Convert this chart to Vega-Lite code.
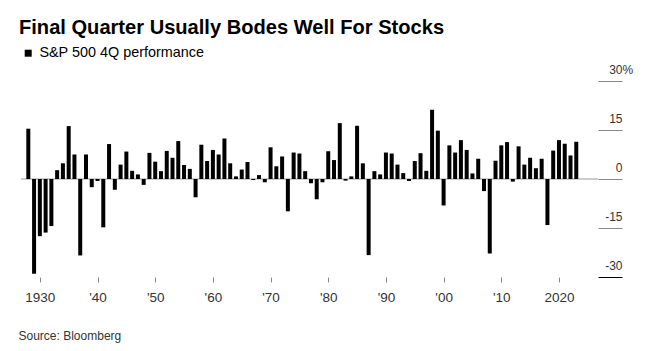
{
  "$schema": "https://vega.github.io/schema/vega-lite/v6.json",
  "width": 577,
  "height": 196,
  "autosize": {"type": "none"},
  "padding": {"left": 21, "top": 81, "right": 56, "bottom": 74},
  "background": "white",
  "config": {"view": {"stroke": null}, "font": "Liberation Sans"},
  "title": {
    "text": "Final Quarter Usually Bodes Well For Stocks",
    "anchor": "start",
    "frame": "group",
    "font": "Liberation Sans",
    "fontSize": 20.1,
    "fontWeight": "bold",
    "color": "#000",
    "dx": -2,
    "dy": 2,
    "offset": 10
  },
  "layer": [
    {
      "data": {"values": [{"z": 0}]},
      "mark": {"type": "rule", "color": "#999", "strokeWidth": 1},
      "encoding": {
        "y": {"datum": 0, "type": "quantitative"}
      }
    },
    {
      "data": {
        "values": [
          {"year": 1928, "value": 15.4}, {"year": 1929, "value": -29.0}, {"year": 1930, "value": -17.5},
          {"year": 1931, "value": -16.4}, {"year": 1932, "value": -14.4}, {"year": 1933, "value": 2.7},
          {"year": 1934, "value": 4.8}, {"year": 1935, "value": 16.2}, {"year": 1936, "value": 7.5},
          {"year": 1937, "value": -23.4}, {"year": 1938, "value": 7.5}, {"year": 1939, "value": -2.5},
          {"year": 1940, "value": -0.6}, {"year": 1941, "value": -14.8}, {"year": 1942, "value": 10.7},
          {"year": 1943, "value": -3.3}, {"year": 1944, "value": 4.4}, {"year": 1945, "value": 8.4},
          {"year": 1946, "value": 2.5}, {"year": 1947, "value": 1.4}, {"year": 1948, "value": -1.8},
          {"year": 1949, "value": 8.0}, {"year": 1950, "value": 5.3}, {"year": 1951, "value": 2.4},
          {"year": 1952, "value": 8.6}, {"year": 1953, "value": 6.5}, {"year": 1954, "value": 11.6},
          {"year": 1955, "value": 4.3}, {"year": 1956, "value": 3.1}, {"year": 1957, "value": -5.6},
          {"year": 1958, "value": 10.5}, {"year": 1959, "value": 5.5}, {"year": 1960, "value": 8.9},
          {"year": 1961, "value": 7.5}, {"year": 1962, "value": 12.4}, {"year": 1963, "value": 4.8},
          {"year": 1964, "value": 0.8}, {"year": 1965, "value": 2.9}, {"year": 1966, "value": 5.2},
          {"year": 1967, "value": -0.3}, {"year": 1968, "value": 1.2}, {"year": 1969, "value": -1.0},
          {"year": 1970, "value": 9.7}, {"year": 1971, "value": 3.9}, {"year": 1972, "value": 6.9},
          {"year": 1973, "value": -9.9}, {"year": 1974, "value": 8.1}, {"year": 1975, "value": 7.8},
          {"year": 1976, "value": 2.4}, {"year": 1977, "value": -1.3}, {"year": 1978, "value": -6.2},
          {"year": 1979, "value": -1.0}, {"year": 1980, "value": 8.5}, {"year": 1981, "value": 5.8},
          {"year": 1982, "value": 17.1}, {"year": 1983, "value": -0.5}, {"year": 1984, "value": 0.8},
          {"year": 1985, "value": 16.3}, {"year": 1986, "value": 4.8}, {"year": 1987, "value": -23.3},
          {"year": 1988, "value": 2.4}, {"year": 1989, "value": 1.4}, {"year": 1990, "value": 8.1},
          {"year": 1991, "value": 7.8}, {"year": 1992, "value": 4.4}, {"year": 1993, "value": 1.8},
          {"year": 1994, "value": -0.6}, {"year": 1995, "value": 5.5}, {"year": 1996, "value": 7.9},
          {"year": 1997, "value": 2.5}, {"year": 1998, "value": 21.2}, {"year": 1999, "value": 14.8},
          {"year": 2000, "value": -8.1}, {"year": 2001, "value": 10.3}, {"year": 2002, "value": 8.1},
          {"year": 2003, "value": 11.9}, {"year": 2004, "value": 8.9}, {"year": 2005, "value": 1.7},
          {"year": 2006, "value": 6.2}, {"year": 2007, "value": -3.7}, {"year": 2008, "value": -22.8},
          {"year": 2009, "value": 5.6}, {"year": 2010, "value": 10.3}, {"year": 2011, "value": 11.3},
          {"year": 2012, "value": -0.8}, {"year": 2013, "value": 10.0}, {"year": 2014, "value": 4.4},
          {"year": 2015, "value": 6.5}, {"year": 2016, "value": 3.3}, {"year": 2017, "value": 6.2},
          {"year": 2018, "value": -14.1}, {"year": 2019, "value": 8.7}, {"year": 2020, "value": 11.9},
          {"year": 2021, "value": 10.8}, {"year": 2022, "value": 7.2}, {"year": 2023, "value": 11.4}
        ]
      },
      "mark": {"type": "bar", "size": 4},
      "encoding": {
        "x": {
          "field": "year",
          "type": "quantitative",
          "scale": {"domain": [1927.6, 2025.9], "nice": false, "zero": false},
          "axis": {
            "values": [1930, 1940, 1950, 1960, 1970, 1980, 1990, 2000, 2010, 2020],
            "labelExpr": "datum.value == 1930 || datum.value == 2020 ? '' + datum.value : \"'\" + substring('' + datum.value, 2, 4)",
            "grid": false,
            "domain": false,
            "tickSize": 5,
            "tickColor": "#888",
            "labelFlush": false,
            "labelFont": "Liberation Sans",
            "labelFontSize": 13.5,
            "labelColor": "#333",
            "labelPadding": 8,
            "title": "Source: Bloomberg",
            "titleAnchor": "start",
            "titleAlign": "left",
            "titleX": -3,
            "titleY": 62,
            "titleBaseline": "alphabetic",
            "titleFont": "Liberation Sans",
            "titleFontSize": 12,
            "titleFontWeight": "normal",
            "titleColor": "#333"
          }
        },
        "y": {
          "field": "value",
          "type": "quantitative",
          "scale": {"domain": [-30, 30], "nice": false},
          "axis": {
            "orient": "right",
            "values": [-30, -15, 0, 15, 30],
            "grid": false,
            "domain": false,
            "tickSize": 24,
            "tickColor": {"condition": {"test": "datum.value == -30", "value": "#000"}, "value": "#888"},
            "labelAlign": {"condition": {"test": "datum.value == 30", "value": "left"}, "value": "right"},
            "labelPadding": {"condition": {"test": "datum.value == 30", "value": -13.3}, "value": 0},
            "labelBaseline": "alphabetic",
            "labelOffset": -8,
            "labelExpr": "datum.value == 30 ? '30%' : '' + datum.value",
            "labelFont": "Liberation Sans",
            "labelFontSize": 12,
            "labelColor": "#333",
            "title": null
          }
        },
        "color": {
          "datum": "S&P 500 4Q performance",
          "scale": {"range": ["#000"]},
          "legend": {
            "orient": "none",
            "legendX": 0,
            "legendY": -35,
            "title": null,
            "symbolType": "square",
            "symbolSize": 49,
            "symbolStrokeWidth": 0,
            "labelFont": "Liberation Sans",
            "labelFontSize": 14.4,
            "labelColor": "#000",
            "labelOffset": 4,
            "labelLimit": 0,
            "padding": 0
          }
        }
      }
    }
  ]
}
